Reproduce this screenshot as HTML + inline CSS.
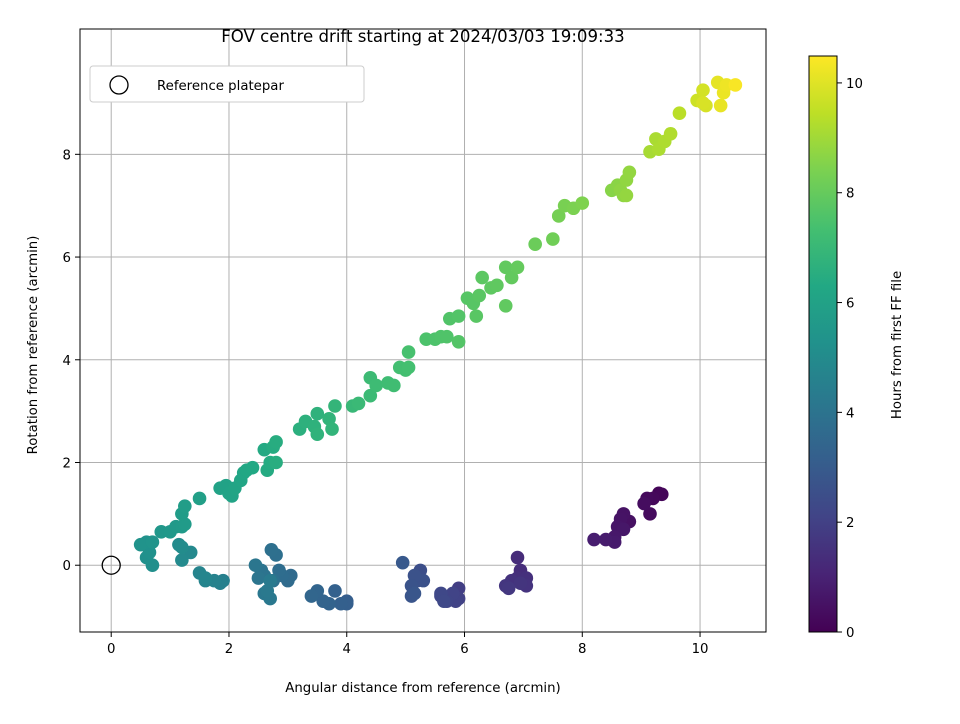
<!DOCTYPE html>
<html><head><meta charset="utf-8"><style>
body{margin:0;background:#fff;font-family:"DejaVu Sans","Liberation Sans",sans-serif}
svg text{font-family:"DejaVu Sans","Liberation Sans",sans-serif;fill:#000;font-size:13.3px}
svg text.title{font-size:16.6px}
</style></head><body>
<svg id="chart" width="960" height="720" xmlns="http://www.w3.org/2000/svg">
<defs><linearGradient id="vir" x1="0" y1="1" x2="0" y2="0">
<stop offset="0" stop-color="#440154"/><stop offset="0.1" stop-color="#482475"/><stop offset="0.2" stop-color="#414487"/><stop offset="0.3" stop-color="#355f8d"/><stop offset="0.4" stop-color="#2a788e"/><stop offset="0.5" stop-color="#21918c"/><stop offset="0.6" stop-color="#22a884"/><stop offset="0.7" stop-color="#44bf70"/><stop offset="0.8" stop-color="#7ad151"/><stop offset="0.9" stop-color="#bddf26"/><stop offset="1" stop-color="#fde725"/>
</linearGradient></defs>
<g id="grid"></g>
<g id="pts"></g>
<rect x="80" y="29" width="686" height="603" fill="none" stroke="#000" stroke-width="1"/>
<g id="ticks"></g>
<text class="title" x="423" y="42" text-anchor="middle" style="font-size:16.6px">FOV centre drift starting at 2024/03/03 19:09:33</text>
<text x="423" y="692" text-anchor="middle" style="font-size:13.3px">Angular distance from reference (arcmin)</text>
<text transform="translate(37,345) rotate(-90)" text-anchor="middle" style="font-size:13.3px">Rotation from reference (arcmin)</text>
<g>
<rect x="90" y="66" width="274" height="36" rx="3" fill="#fff" stroke="#ccc"/>
<circle cx="119" cy="85" r="9" fill="none" stroke="#000" stroke-width="1.3"/>
<text x="157" y="90" style="font-size:13.3px">Reference platepar</text>
</g>
<rect x="809" y="56" width="28" height="576" fill="url(#vir)" stroke="#000" stroke-width="1"/>
<g id="cbt"></g>
<text transform="translate(901,345) rotate(-90)" text-anchor="middle" style="font-size:13.3px">Hours from first FF file</text>
</svg>
<script>
const xTicks=[0,2,4,6,8,10];
const yTicks=[0,2,4,6,8];
const cTicks=[0,2,4,6,8,10];
const px=[9.3,9.35,9.2,9.1,9.15,9.05,8.8,8.7,8.65,8.6,8.7,8.55,8.55,8.4,8.2,6.9,6.95,6.9,7.05,6.8,7.05,6.95,6.7,6.75,5.9,5.9,5.85,5.8,5.7,5.6,5.6,5.65,5.25,5.2,5.3,5.15,5.1,5.1,5.15,4.95,4.0,4.0,3.9,3.8,3.7,3.6,3.5,3.4,3.05,3.0,2.9,2.85,2.8,2.72,2.75,2.6,2.55,2.5,2.45,2.6,2.7,2.65,2.7,1.9,1.85,1.75,1.6,1.5,1.6,1.35,1.2,1.15,1.2,0.7,0.6,0.65,0.6,0.5,0.7,0.85,1.0,1.1,1.2,1.25,1.2,1.25,1.5,1.85,1.95,2.0,2.05,2.1,2.2,2.25,2.3,2.4,2.6,2.65,2.7,2.75,2.8,2.8,3.2,3.3,3.45,3.5,3.5,3.7,3.75,3.8,4.1,4.2,4.4,4.4,4.5,4.7,4.8,4.9,5.0,5.05,5.05,5.35,5.5,5.6,5.7,5.75,5.9,5.9,6.05,6.15,6.2,6.25,6.3,6.45,6.55,6.7,6.7,6.8,6.9,7.2,7.5,7.6,7.7,7.85,8.0,8.5,8.6,8.7,8.65,8.75,8.8,8.75,9.15,9.25,9.3,9.4,9.5,9.65,9.95,10.05,10.1,10.05,10.3,10.35,10.4,10.45,10.6];
const py=[1.4,1.38,1.3,1.3,1.0,1.2,0.85,1.0,0.9,0.75,0.7,0.55,0.45,0.5,0.5,0.15,-0.1,-0.25,-0.25,-0.3,-0.4,-0.35,-0.4,-0.45,-0.45,-0.65,-0.7,-0.55,-0.7,-0.6,-0.55,-0.7,-0.1,-0.3,-0.3,-0.2,-0.4,-0.6,-0.55,0.05,-0.7,-0.75,-0.75,-0.5,-0.75,-0.7,-0.5,-0.6,-0.2,-0.3,-0.2,-0.1,0.2,0.3,-0.3,-0.2,-0.1,-0.25,0.0,-0.55,-0.65,-0.5,-0.3,-0.3,-0.35,-0.3,-0.3,-0.15,-0.25,0.25,0.1,0.4,0.35,0.0,0.15,0.25,0.45,0.4,0.45,0.65,0.65,0.75,0.75,0.8,1.0,1.15,1.3,1.5,1.55,1.4,1.35,1.5,1.65,1.8,1.85,1.9,2.25,1.85,2.0,2.3,2.4,2.0,2.65,2.8,2.7,2.95,2.55,2.85,2.65,3.1,3.1,3.15,3.3,3.65,3.5,3.55,3.5,3.85,3.8,3.85,4.15,4.4,4.4,4.45,4.45,4.8,4.85,4.35,5.2,5.1,4.85,5.25,5.6,5.4,5.45,5.05,5.8,5.6,5.8,6.25,6.35,6.8,7.0,6.95,7.05,7.3,7.4,7.2,7.3,7.5,7.65,7.2,8.05,8.3,8.1,8.25,8.4,8.8,9.05,9.25,8.95,9.0,9.4,8.95,9.2,9.35,9.35];
const ph=[0.1,0.15,0.2,0.25,0.3,0.35,0.45,0.5,0.55,0.6,0.65,0.7,0.75,0.8,0.85,1.3,1.35,1.4,1.45,1.5,1.55,1.6,1.65,1.7,1.9,2.0,2.05,2.1,2.15,2.2,2.25,2.3,2.5,2.55,2.6,2.65,2.7,2.75,2.8,2.9,3.1,3.15,3.2,3.25,3.3,3.35,3.4,3.45,3.6,3.65,3.7,3.75,3.8,3.85,3.9,3.95,4.0,4.05,4.1,4.15,4.2,4.25,4.3,4.5,4.55,4.6,4.65,4.7,4.75,4.9,4.95,5.0,5.05,5.15,5.2,5.25,5.3,5.35,5.4,5.5,5.55,5.6,5.65,5.7,5.75,5.8,5.9,6.0,6.02,6.05,6.07,6.1,6.15,6.2,6.25,6.3,6.35,6.4,6.42,6.45,6.48,6.5,6.6,6.65,6.7,6.72,6.75,6.8,6.82,6.85,7.0,7.05,7.1,7.12,7.15,7.2,7.22,7.3,7.32,7.35,7.4,7.5,7.52,7.55,7.58,7.6,7.63,7.65,7.7,7.72,7.75,7.78,7.8,7.85,7.88,7.9,7.92,7.95,7.98,8.1,8.2,8.3,8.35,8.4,8.45,8.6,8.65,8.7,8.72,8.75,8.78,8.8,9.1,9.15,9.18,9.2,9.25,9.4,9.7,9.8,9.85,9.88,10.1,10.15,10.2,10.25,10.4];
const NS='http://www.w3.org/2000/svg';
const X0=80,X1=766,Y0=632,Y1=29,xmin=-0.53,xmax=11.12,ymin=-1.30,ymax=10.44,cmin=0,cmax=10.49;
const sx=v=>X0+(v-xmin)/(xmax-xmin)*(X1-X0);
const sy=v=>Y0-(v-ymin)/(ymax-ymin)*(Y0-Y1);
const sc=v=>632-(v-cmin)/(cmax-cmin)*576;
const vir=[[68,1,84],[72,36,117],[65,68,135],[53,95,141],[42,120,142],[33,145,140],[34,168,132],[68,191,112],[122,209,81],[189,223,38],[253,231,37]];
function col(h){let t=Math.max(0,Math.min(1,(h-cmin)/(cmax-cmin)))*10;let i=Math.min(9,Math.floor(t)),f=t-i;let a=vir[i],b=vir[i+1];return 'rgb('+a.map((c,k)=>Math.round(c+(b[k]-c)*f)).join(',')+')';}
function mk(tag,at,par){const e=document.createElementNS(NS,tag);for(const k in at)e.setAttribute(k,at[k]);document.getElementById(par).appendChild(e);return e;}
xTicks.forEach(v=>{const g=mk('line',{x1:sx(v),x2:sx(v),y1:Y1,y2:Y0,stroke:'#b0b0b0','stroke-width':1},'grid');


const t=mk('line',{x1:sx(v),x2:sx(v),y1:Y0,y2:Y0+5,stroke:'#000'},'ticks');


const l=mk('text',{x:sx(v),y:Y0+21,'text-anchor':'middle',style:'font-size:13.3px'},'ticks');l.textContent=v;

});
yTicks.forEach(v=>{const g=mk('line',{x1:X0,x2:X1,y1:sy(v),y2:sy(v),stroke:'#b0b0b0','stroke-width':1},'grid');


const t=mk('line',{x1:X0-5,x2:X0,y1:sy(v),y2:sy(v),stroke:'#000'},'ticks');


const l=mk('text',{x:X0-9,y:sy(v)+5,'text-anchor':'end',style:'font-size:13.3px'},'ticks');l.textContent=v;

});
cTicks.forEach(v=>{const t=mk('line',{x1:837,x2:842,y1:sc(v),y2:sc(v),stroke:'#000'},'cbt');


const l=mk('text',{x:846,y:sc(v)+5,style:'font-size:13.3px'},'cbt');l.textContent=v;

});
px.forEach((v,i)=>{const c=mk('circle',{cx:sx(v),cy:sy(py[i]),r:6.8,fill:col(ph[i])},'pts');

});
const r=mk('circle',{cx:sx(0),cy:sy(0),r:9,fill:'none',stroke:'#000','stroke-width':1.3},'pts');


</script>
</body></html>
